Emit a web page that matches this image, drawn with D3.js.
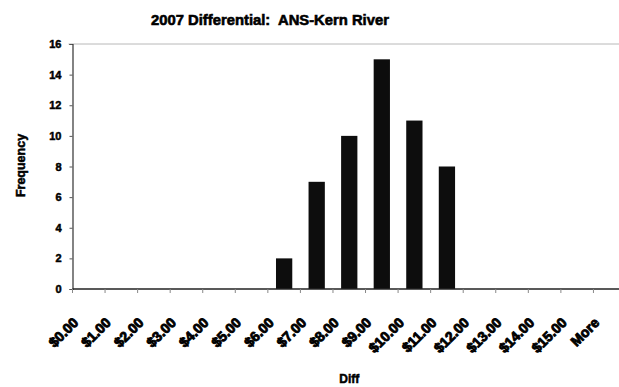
<!DOCTYPE html>
<html>
<head>
<meta charset="utf-8">
<script src="https://cdn.jsdelivr.net/npm/d3@7/dist/d3.min.js"></script>
<style>
  html, body { margin: 0; padding: 0; background: #fff; }
  svg { display: block; }
  text { font-family: "Liberation Sans", Arial, sans-serif; font-weight: bold; fill: #000; white-space: pre; }
</style>
</head>
<body>
<svg id="chart" width="619" height="387"></svg>
<script>
// Histogram bins (upper bound of each bin) and counts
const bins = ["$0.00", "$1.00", "$2.00", "$3.00", "$4.00", "$5.00", "$6.00", "$7.00",
              "$8.00", "$9.00", "$10.00", "$11.00", "$12.00", "$13.00", "$14.00", "$15.00", "More"];
const frequency = [0, 0, 0, 0, 0, 0, 2, 7, 10, 15, 11, 8, 0, 0, 0, 0, 0];
const yTicks = [0, 2, 4, 6, 8, 10, 12, 14, 16];

const titleText = "2007 Differential:  ANS-Kern River";
const xTitle = "Diff";
const yTitle = "Frequency";

const svg = d3.select("#chart");
const plotLeft = 72.5, plotRight = 626, plotTop = 44, plotBottom = 289;

const x = d3.scaleBand().domain(bins).range([plotLeft, plotRight]).paddingInner(0).paddingOuter(0);
const y = d3.scaleLinear().domain([0, 16]).range([plotBottom, plotTop]);

// Title
svg.append("text")
  .attr("x", 270).attr("y", 25)
  .attr("text-anchor", "middle")
  .attr("font-size", 14.8)
  .attr("stroke", "#000").attr("stroke-width", 0.6)
  .text(titleText);

// Top border line of plot area
svg.append("line")
  .attr("x1", plotLeft - 4).attr("x2", 619)
  .attr("y1", y(16)).attr("y2", y(16))
  .attr("stroke", "#b8b8b8").attr("stroke-width", 1);

// Bars
svg.append("g").selectAll("rect")
  .data(bins.map((b, i) => ({ bin: b, v: frequency[i] })).filter(d => d.v > 0))
  .join("rect")
  .attr("x", d => x(d.bin) + x.bandwidth() * 0.25)
  .attr("width", x.bandwidth() * 0.5)
  .attr("y", d => y(d.v))
  .attr("height", d => y(0) - y(d.v))
  .attr("fill", "#0d0d0d");

// Y axis
const yAxis = d3.axisLeft(y).tickValues(yTicks).tickSize(3).tickPadding(8);
const gy = svg.append("g").attr("transform", `translate(${plotLeft},0)`).call(yAxis);
gy.select(".domain").attr("stroke", "#333").attr("stroke-width", 1.2);
gy.selectAll(".tick line").attr("stroke", "#555");
gy.selectAll(".tick text")
  .attr("font-size", 11).attr("font-family", "Liberation Sans, Arial, sans-serif")
  .attr("font-weight", "bold").attr("stroke", "#000").attr("stroke-width", 0.5);

// X axis: ticks at bin boundaries
const gx = svg.append("g").attr("transform", `translate(0,${plotBottom})`);
gx.append("line")
  .attr("x1", plotLeft).attr("x2", 619).attr("y1", 0).attr("y2", 0)
  .attr("stroke", "#222").attr("stroke-width", 1.5);
gx.selectAll("line.tk")
  .data(bins)
  .join("line").attr("class", "tk")
  .attr("x1", d => x(d)).attr("x2", d => x(d))
  .attr("y1", 0).attr("y2", 4)
  .attr("stroke", "#888");

gx.selectAll("text")
  .data(bins)
  .join("text")
  .attr("transform", d => `translate(${x(d) + x.bandwidth() / 2 - 13},${31}) rotate(-45)`)
  .attr("text-anchor", "end")
  .attr("dominant-baseline", "central")
  .attr("font-size", 14)
  .attr("stroke", "#000").attr("stroke-width", 0.9)
  .text(d => d);

// Axis titles
svg.append("text")
  .attr("x", (plotLeft + plotRight) / 2).attr("y", 383)
  .attr("text-anchor", "middle")
  .attr("font-size", 12)
  .attr("stroke", "#000").attr("stroke-width", 0.5)
  .text(xTitle);

svg.append("text")
  .attr("transform", `translate(25,${(plotTop + plotBottom) / 2 - 1}) rotate(-90)`)
  .attr("text-anchor", "middle")
  .attr("font-size", 12.5)
  .attr("stroke", "#000").attr("stroke-width", 0.5)
  .text(yTitle);
</script>
</body>
</html>
